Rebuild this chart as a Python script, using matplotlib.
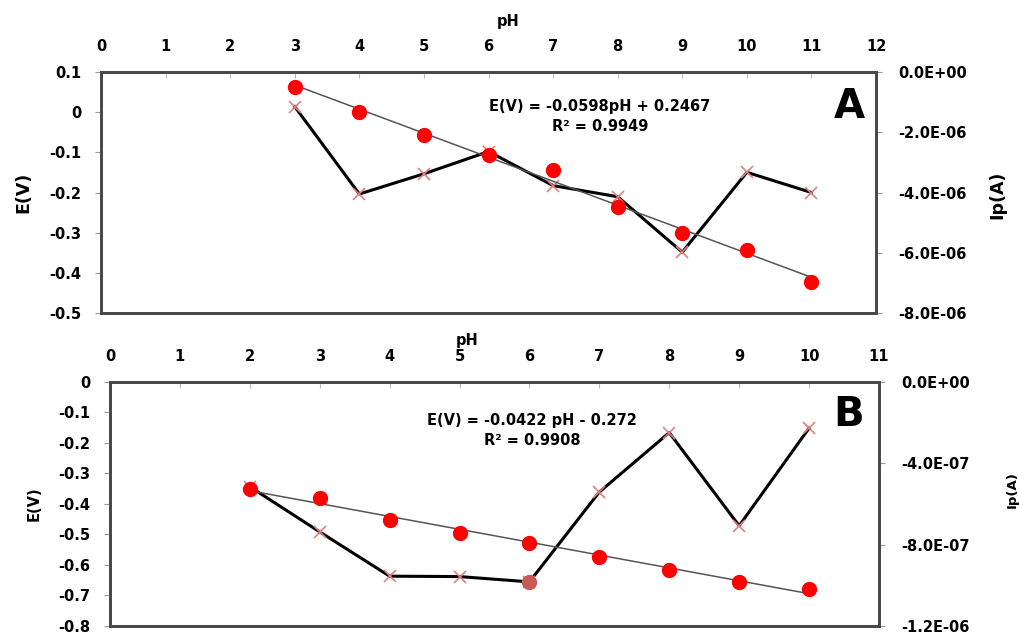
import numpy as np
import matplotlib
matplotlib.use("Agg")
import matplotlib.pyplot as plt

plt.rcParams['font.family'] = 'DejaVu Sans'
plt.rcParams['font.weight'] = 'bold'

# Panel A data
ph_a = [3, 4, 5, 6, 7, 8, 9, 10, 11]
e_a = [0.062, 0.001, -0.058, -0.107, -0.145, -0.235, -0.301, -0.344, -0.422]
ip_a = [-1.15e-6, -4.05e-6, -3.38e-6, -2.64e-6, -3.77e-6, -4.14e-6, -5.98e-6, -3.33e-6, -4.0e-6]
slope_a, icpt_a = -0.0598, 0.2467
eq_a = "E(V) = -0.0598pH + 0.2467"
r2_a = "R² = 0.9949"

# Panel B data
ph_b = [2, 3, 4, 5, 6, 7, 8, 9, 10]
e_b = [-0.352, -0.381, -0.454, -0.494, -0.527, -0.575, -0.615, -0.656, -0.678]
ip_b = [-0.515e-6, -0.737e-6, -0.955e-6, -0.957e-6, -0.983e-6, -0.541e-6, -0.249e-6, -0.707e-6, -0.227e-6]
slope_b, icpt_b = -0.0422, -0.272
eq_b = "E(V) = -0.0422 pH - 0.272"
r2_b = "R² = 0.9908"

fig = plt.figure(figsize=(10.19, 6.32), dpi=100)

def make_panel(rect, ph, e, ip, slope, icpt, xmax, ylim, yticks, ytl, ip_lim, ip_ticks, ip_tl,
               eq, r2, eq_x, eq_y, r2_y, letter, let_xy, ph_x, ph_y, ylab_size, iplab_x, iplab_y, iplab_size,
               ylab_x, special=None):
    ax = fig.add_axes(rect)
    ax2 = ax.twinx()
    ax.set_zorder(ax2.get_zorder() + 1)
    ax.patch.set_visible(False)

    # Ip series (black line, pink crosses)
    ax2.plot(ph, ip, color='black', lw=2.2, zorder=2)
    ax2.plot(ph, ip, ls='none', marker='x', ms=8, mew=1.2, color='#e08080', zorder=3)
    if special is not None:
        ax2.plot(ph[special], ip[special], ls='none', marker='o', ms=10, color='#c85a55', zorder=4)

    # E series with trend line
    xs = np.array([ph[0], ph[-1]])
    ax.plot(xs, slope * xs + icpt, color='#555555', lw=1.1, zorder=2)
    ax.plot(ph, e, ls='none', marker='o', ms=10, color='#ff0000', zorder=3)

    ax.set_xlim(0, xmax)
    ax.set_ylim(*ylim)
    ax.set_yticks(yticks)
    ax.set_yticklabels(ytl)
    ax.xaxis.tick_top()
    ax.xaxis.set_label_position('top')
    ax.set_xticks(range(0, xmax + 1))
    ax.tick_params(axis='x', direction='in', length=4, color='#bbbbbb', pad=13, labelsize=10.5)
    ax.tick_params(axis='y', direction='out', length=4, color='#999999', pad=10, labelsize=10.5)
    ax.set_xlabel('pH', fontsize=10.5, fontweight='bold')
    ax.xaxis.set_label_coords(ph_x, ph_y)
    ax.set_ylabel('E(V)', fontsize=ylab_size, fontweight='bold')
    ax.yaxis.set_label_coords(ylab_x, 0.5)

    ax2.set_ylim(*ip_lim)
    ax2.set_yticks(ip_ticks)
    ax2.set_yticklabels(ip_tl)
    ax2.tick_params(axis='y', direction='out', length=4, color='#999999', pad=12, labelsize=10.5)
    ax2.set_ylabel('Ip(A)', fontsize=iplab_size, fontweight='bold')
    ax2.yaxis.set_label_coords(iplab_x, iplab_y)

    for a in (ax, ax2):
        for s in a.spines.values():
            s.set_linewidth(2.0)
            s.set_color('#484848')

    ax.text(eq_x, eq_y, eq, transform=ax.transAxes, ha='center', va='center', fontsize=10.5, fontweight='bold')
    ax.text(eq_x, r2_y, r2, transform=ax.transAxes, ha='center', va='center', fontsize=10.5, fontweight='bold')
    ax.text(let_xy[0], let_xy[1], letter, transform=ax.transAxes, ha='center', va='center',
            fontsize=29, fontweight='bold')
    return ax


make_panel([0.0991, 0.5047, 0.7606, 0.3814], ph_a, e_a, ip_a, slope_a, icpt_a, 12,
           (-0.5, 0.1), [-0.5, -0.4, -0.3, -0.2, -0.1, 0, 0.1],
           ['-0.5', '-0.4', '-0.3', '-0.2', '-0.1', '0', '0.1'],
           (-8e-6, 0), [-8e-6, -6e-6, -4e-6, -2e-6, 0],
           ['-8.0E-06', '-6.0E-06', '-4.0E-06', '-2.0E-06', '0.0E+00'],
           eq_a, r2_a, 0.644, 0.856, 0.772, 'A', (0.965, 0.855), 0.525, 1.19, 12.5,
           1.145, 0.49, 12.5, -0.089)

make_panel([0.1079, 0.0095, 0.7547, 0.3861], ph_b, e_b, ip_b, slope_b, icpt_b, 11,
           (-0.8, 0), [-0.8, -0.7, -0.6, -0.5, -0.4, -0.3, -0.2, -0.1, 0],
           ['-0.8', '-0.7', '-0.6', '-0.5', '-0.4', '-0.3', '-0.2', '-0.1', '0'],
           (-1.2e-6, 0), [-1.2e-6, -8e-7, -4e-7, 0],
           ['-1.2E-06', '-8.0E-07', '-4.0E-07', '0.0E+00'],
           eq_b, r2_b, 0.549, 0.844, 0.759, 'B', (0.960, 0.865), 0.464, 1.15, 10.5,
           1.165, 0.56, 9.5, -0.089, special=4)

fig.savefig('out.png', dpi=100)
